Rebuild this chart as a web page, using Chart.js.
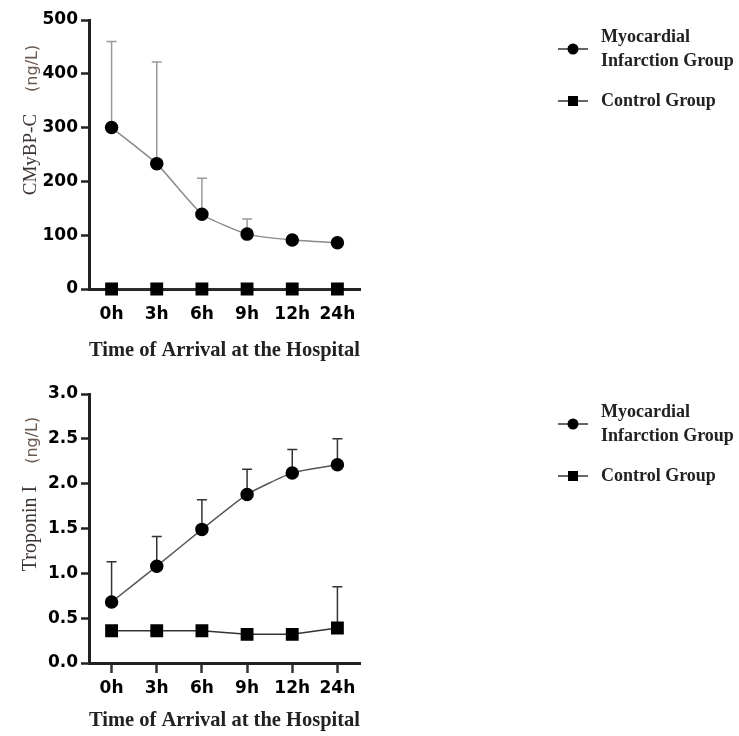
<!DOCTYPE html>
<html>
<head>
<meta charset="utf-8">
<script src="https://cdn.jsdelivr.net/npm/chart.js@4.4.1/dist/chart.umd.min.js"></script>
<style>
  body { margin: 0; background: #fff; }
  canvas { display: block; }
</style>
</head>
<body>
<canvas id="chart1" width="739" height="368"></canvas>
<canvas id="chart2" width="739" height="368"></canvas>
<script>
// data
var timePoints = ['0h', '3h', '6h', '9h', '12h', '24h'];
var groupNames = ['Myocardial Infarction Group', 'Control Group'];

var cmybpcMI = [300, 233, 139, 102, 91, 86];
var cmybpcMIUpper = [460, 422, 206, 130, 91, 86];
var cmybpcControl = [0, 0, 0, 0, 0, 0];
var cmybpcControlUpper = [0, 0, 0, 0, 0, 0];
var cmybpcTicks = [0, 100, 200, 300, 400, 500];

var tnMI = [0.68, 1.08, 1.49, 1.88, 2.12, 2.21];
var tnMIUpper = [1.13, 1.41, 1.82, 2.16, 2.38, 2.50];
var tnControl = [0.36, 0.36, 0.36, 0.32, 0.32, 0.39];
var tnControlUpper = [0.41, 0.41, 0.40, 0.35, 0.37, 0.85];
var tnTicks = [0, 0.5, 1.0, 1.5, 2.0, 2.5, 3.0];

// upper error bars (drawn behind the markers)
var errorBars = {
  id: 'errorBars',
  beforeDatasetsDraw: function (chart) {
    var ctx = chart.ctx;
    var yScale = chart.scales.y;
    chart.data.datasets.forEach(function (ds, i) {
      if (!ds.upper) return;
      var meta = chart.getDatasetMeta(i);
      ctx.save();
      ctx.strokeStyle = ds.errorColor || ds.borderColor;
      ctx.lineWidth = 1.5;
      meta.data.forEach(function (pt, j) {
        if (ds.upper[j] <= ds.data[j]) return;
        var yTop = yScale.getPixelForValue(ds.upper[j]);
        ctx.beginPath();
        ctx.moveTo(pt.x, pt.y);
        ctx.lineTo(pt.x, yTop);
        ctx.moveTo(pt.x - 5, yTop);
        ctx.lineTo(pt.x + 5, yTop);
        ctx.stroke();
      });
      ctx.restore();
    });
  }
};

// rotated y title with two fonts
function makeYTitle(parts, x, dy) {
  return {
    id: 'yTitle',
    afterDraw: function (chart) {
      var ctx = chart.ctx;
      ctx.save();
      var widths = [];
      var total = 0;
      parts.forEach(function (p) {
        ctx.font = p.font;
        var w = ctx.measureText(p.text).width;
        widths.push(w);
        total += w + (p.gap || 0);
      });
      ctx.translate(x, chart.chartArea.top + dy);
      ctx.rotate(-Math.PI / 2);
      var pos = -total / 2;
      ctx.textBaseline = 'middle';
      ctx.textAlign = 'left';
      parts.forEach(function (p, k) {
        ctx.font = p.font;
        ctx.fillStyle = p.color;
        ctx.fillText(p.text, pos, p.shift || 0);
        pos += widths[k] + (p.gap || 0);
      });
      ctx.restore();
    }
  };
}

// legend on the right, one row per group
function makeLegend(rows) {
  var x = 573, textX = 601, lineHeight = 24, maxWidth = 140;
  var font = 'bold 18px "Liberation Serif", serif';
  return {
    id: 'sideLegend',
    afterDraw: function (chart) {
      var ctx = chart.ctx;
      ctx.save();
      chart.data.datasets.forEach(function (ds, i) {
        var y = chart.chartArea.top + rows[i];
        ctx.strokeStyle = '#333';
        ctx.lineWidth = 1.5;
        ctx.beginPath();
        ctx.moveTo(x - 15, y);
        ctx.lineTo(x + 15, y);
        ctx.stroke();
        ctx.fillStyle = '#000';
        if (ds.pointStyle === 'rect') {
          ctx.fillRect(x - 5, y - 5, 10, 10);
        } else {
          ctx.beginPath();
          ctx.arc(x, y, 5.5, 0, Math.PI * 2);
          ctx.fill();
        }
        ctx.font = font;
        ctx.fillStyle = '#222';
        ctx.textBaseline = 'middle';
        var words = ds.label.split(' ');
        var lines = [];
        var cur = '';
        words.forEach(function (w) {
          var test = cur ? cur + ' ' + w : w;
          if (cur && ctx.measureText(test).width > maxWidth) {
            lines.push(cur);
            cur = w;
          } else {
            cur = test;
          }
        });
        lines.push(cur);
        var startY = y - (lines.length - 1) * lineHeight / 2;
        lines.forEach(function (l, k) {
          ctx.fillText(l, textX, startY + k * lineHeight);
        });
      });
      ctx.restore();
    }
  };
}

function makeChart(id, mi, miUp, ctrl, ctrlUp, ticks, tickFmt, opts) {
  var ctx = document.getElementById(id).getContext('2d');
  return new Chart(ctx, {
    type: 'line',
    data: {
      labels: timePoints,
      datasets: [{
        label: groupNames[0],
        data: mi,
        upper: miUp,
        borderColor: opts.miLine,
        errorColor: opts.errColor,
        borderWidth: 1.5,
        pointStyle: 'circle',
        pointRadius: 6,
        pointBackgroundColor: '#000',
        pointBorderColor: '#000',
        tension: 0.15,
        clip: false
      }, {
        label: groupNames[1],
        data: ctrl,
        upper: ctrlUp,
        borderColor: '#333',
        errorColor: opts.errColor,
        borderWidth: 1.5,
        pointStyle: 'rect',
        pointRadius: 8,
        pointBackgroundColor: '#000',
        pointBorderColor: '#000',
        tension: 0,
        clip: false
      }]
    },
    plugins: [errorBars, makeYTitle(opts.titleParts, 31, opts.titleDy), makeLegend(opts.legendRows)],
    options: {
      responsive: false,
      animation: false,
      layout: { padding: { top: opts.top, right: 379, left: 0, bottom: 0 } },
      plugins: {
        legend: { display: false },
        tooltip: { enabled: false }
      },
      scales: {
        x: {
          offset: true,
          afterFit: function (s) { s.height = opts.xHeight; },
          grid: { display: true, drawOnChartArea: false, tickLength: 10, tickWidth: 2.5, tickColor: opts.xTickColor, offset: false },
          border: { color: '#222', width: 3 },
          ticks: { color: '#000', padding: 5, font: { family: 'DejaVu Sans', weight: 'bold', size: 17 } },
          title: {
            display: true,
            text: 'Time of Arrival at the Hospital',
            color: '#222',
            padding: { top: 0, bottom: opts.xTitlePad },
            font: { family: 'Liberation Serif', weight: 'bold', size: 21 }
          }
        },
        y: {
          min: ticks[0],
          max: ticks[ticks.length - 1],
          afterFit: function (s) { s.width = 89; },
          afterBuildTicks: function (s) {
            s.ticks = ticks.map(function (v) { return { value: v }; });
          },
          grid: { drawOnChartArea: false, tickLength: 8, tickWidth: 2.5, tickColor: '#222' },
          border: { color: '#222', width: 3 },
          ticks: {
            color: '#000',
            padding: 3,
            font: { family: 'DejaVu Sans', weight: 'bold', size: 17 },
            callback: tickFmt
          }
        }
      }
    }
  });
}

makeChart('chart1', cmybpcMI, cmybpcMIUpper, cmybpcControl, cmybpcControlUpper, cmybpcTicks,
  function (v) { return String(v); },
  {
    top: 20, xHeight: 79, miLine: '#8a8a8a', errColor: '#999', titleDy: 100,
    xTickColor: 'rgba(0,0,0,0)', xTitlePad: 5,
    legendRows: [29, 81],
    titleParts: [
      { text: 'CMyBP-C', font: '19px "Liberation Serif", serif', color: '#3a3330', gap: 22 },
      { text: '(ng/L)', font: '16px "DejaVu Sans", sans-serif', color: '#6a5a50', shift: 2 }
    ]
  });

makeChart('chart2', tnMI, tnMIUpper, tnControl, tnControlUpper, tnTicks,
  function (v) { return Number(v).toFixed(1); },
  {
    top: 26, xHeight: 73, miLine: '#555', errColor: '#333', titleDy: 100,
    xTickColor: '#333', xTitlePad: 3,
    legendRows: [30, 82],
    titleParts: [
      { text: 'Troponin I', font: '20px "Liberation Serif", serif', color: '#3a3330', gap: 22 },
      { text: '(ng/L)', font: '16px "DejaVu Sans", sans-serif', color: '#6a5a50', shift: 2 }
    ]
  });
</script>
</body>
</html>
